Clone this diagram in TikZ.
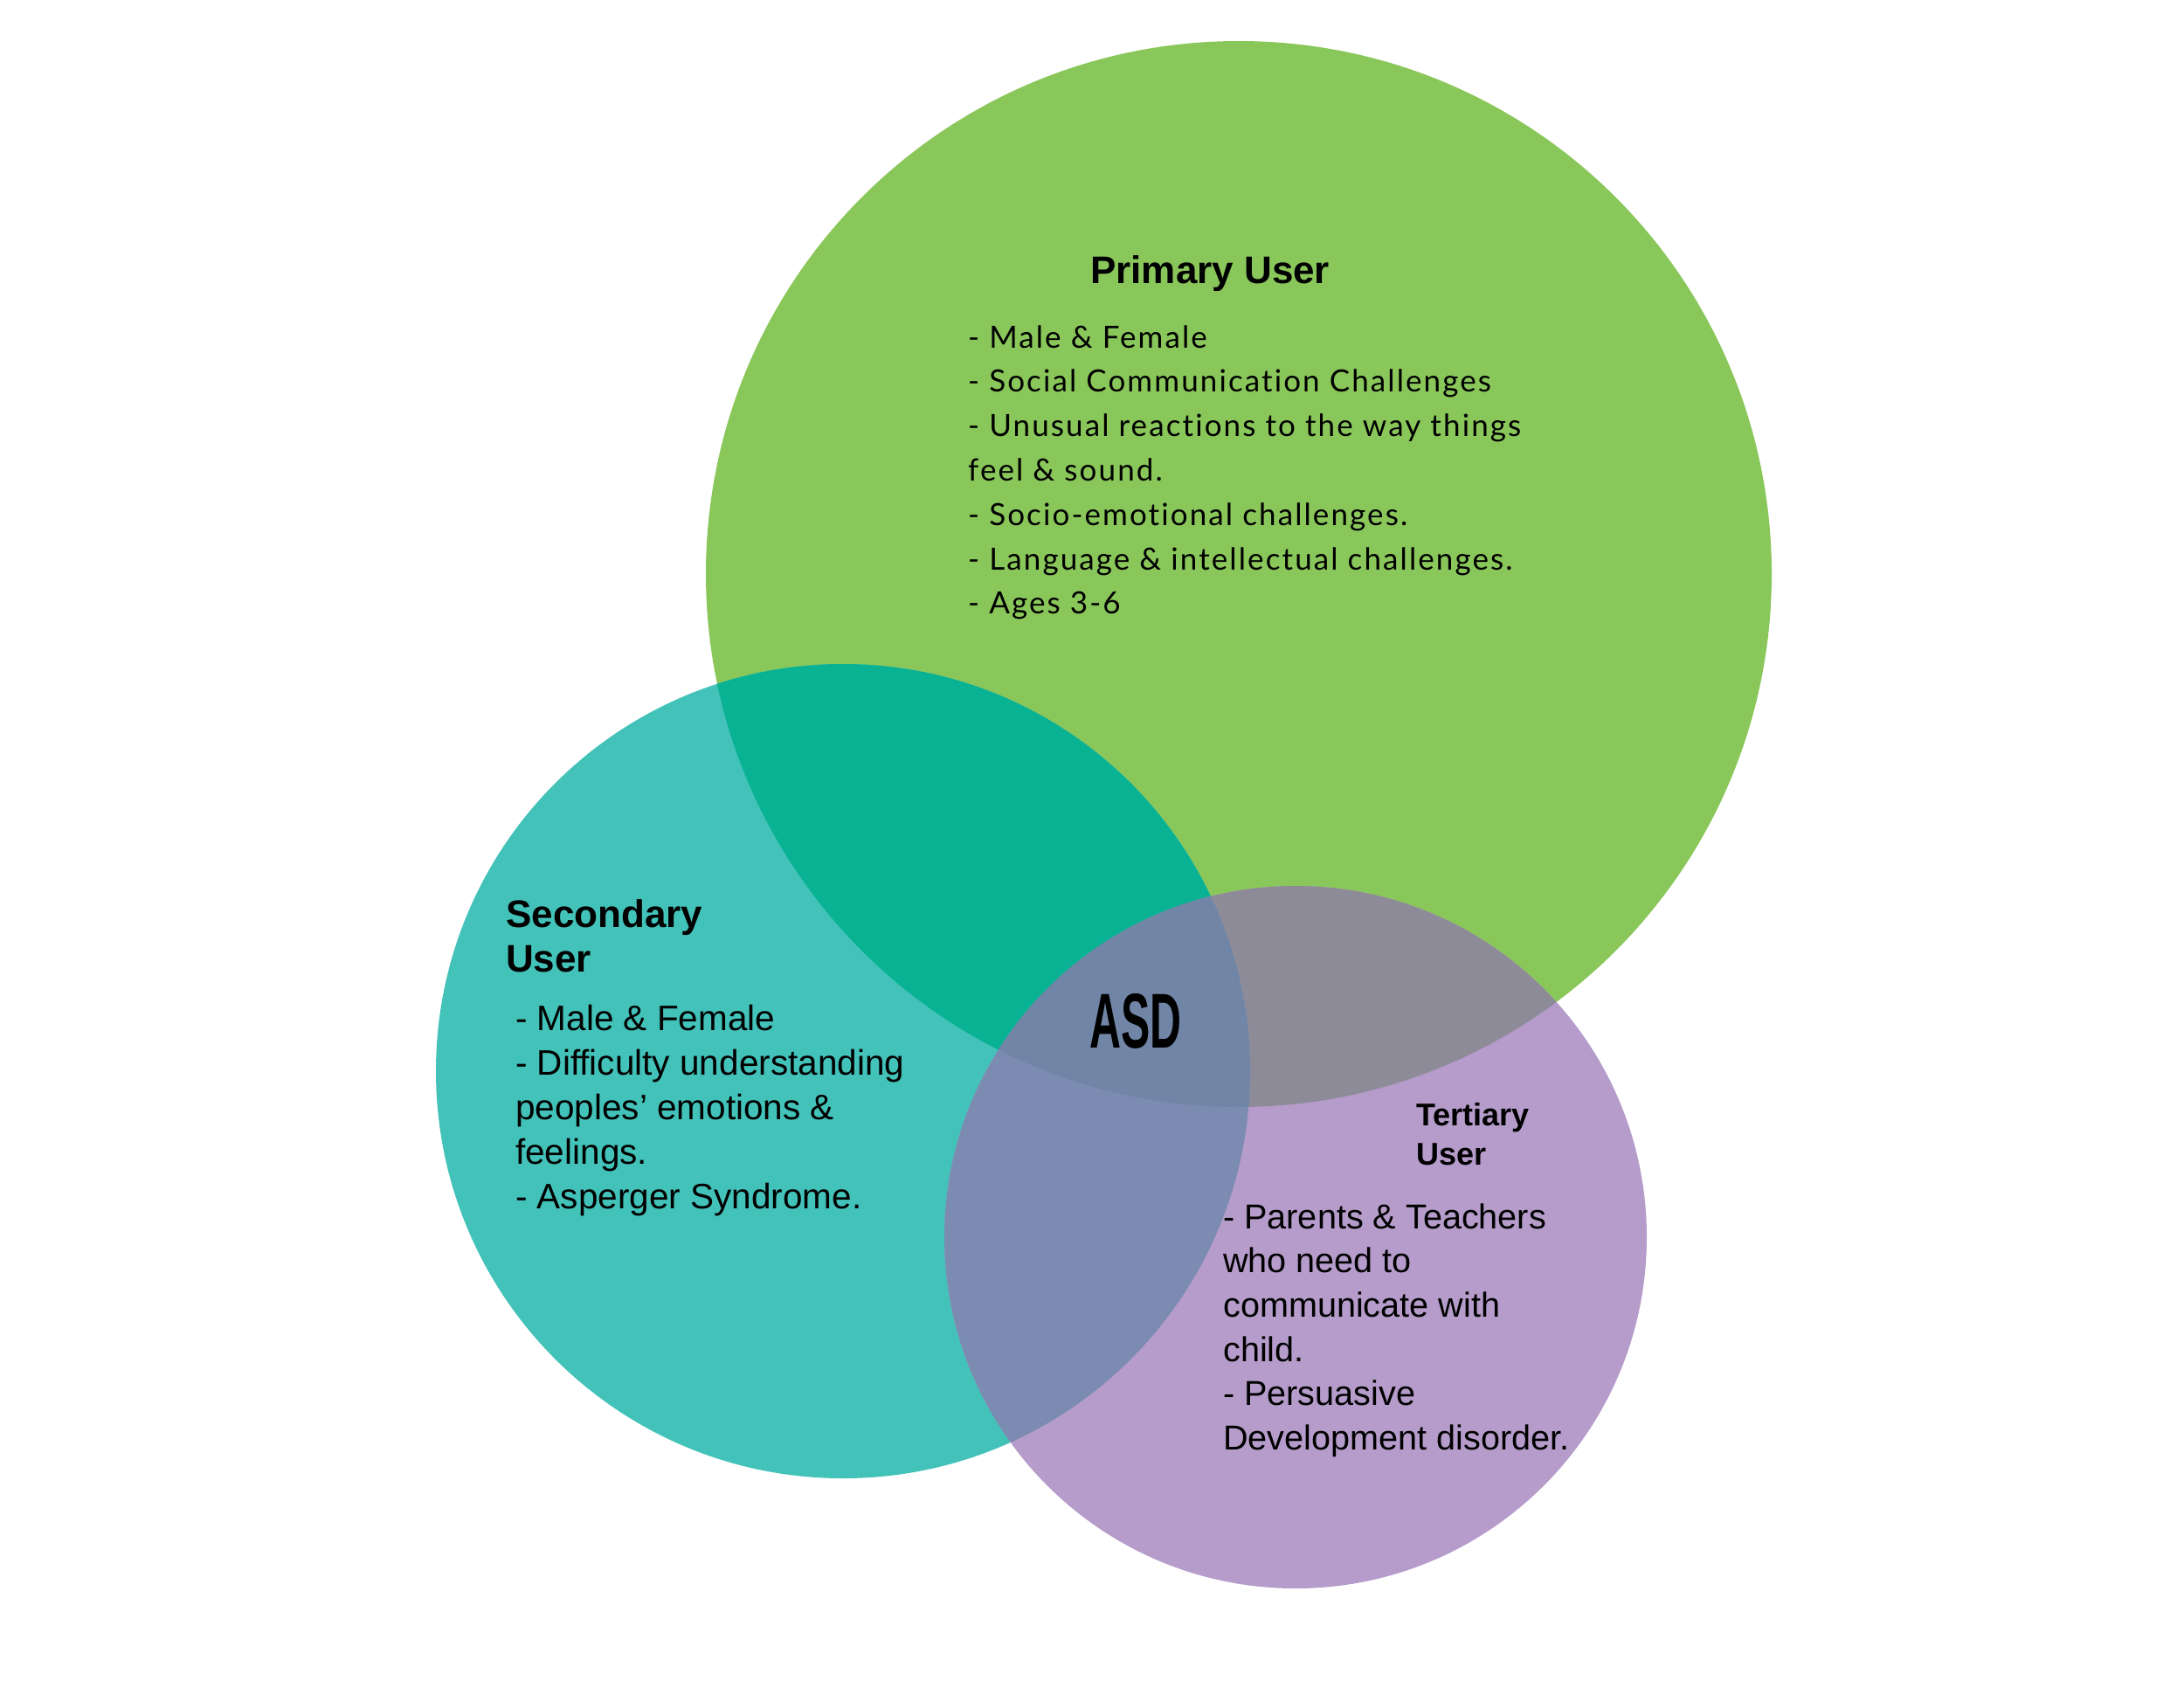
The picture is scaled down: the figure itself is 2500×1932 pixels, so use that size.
\documentclass[tikz,border=0pt]{standalone}
\usepackage{fontspec}
\usepackage{graphicx}
\setmainfont{Liberation Sans}
\newfontfamily\bodyfont[LetterSpace=6,Ligatures=NoCommon]{Lato}
\definecolor{cgreen}{HTML}{8AC75A}
\definecolor{cteal}{HTML}{42C2B9}
\definecolor{cpurple}{HTML}{B59CCA}
\definecolor{cgt}{HTML}{0AB294}
\definecolor{cgp}{HTML}{8E8B99}
\definecolor{ctp}{HTML}{7B8BB1}
\definecolor{call}{HTML}{7186A7}
\tikzset{
  titletext/.style={anchor=base west, inner sep=0pt, font=\bfseries\fontsize{44}{51}\selectfont},
  bodytext/.style={anchor=base west, inner sep=0pt},
}
\begin{document}
\begin{tikzpicture}[x=1pt,y=-1pt]
\useasboundingbox (0,0) rectangle (2500,1932);
\fill[white] (0,0) rectangle (2500,1932);
% circles
\fill[cgreen] (1418,657) circle[radius=610pt];
\fill[cteal] (965,1226) circle[radius=466pt];
\fill[cpurple] (1483,1416) circle[radius=402pt];
\begin{scope}
  \clip (1418,657) circle[radius=610pt];
  \fill[cgt] (965,1226) circle[radius=466pt];
\end{scope}
\begin{scope}
  \clip (1418,657) circle[radius=610pt];
  \fill[cgp] (1483,1416) circle[radius=402pt];
\end{scope}
\begin{scope}
  \clip (965,1226) circle[radius=466pt];
  \fill[ctp] (1483,1416) circle[radius=402pt];
\end{scope}
\begin{scope}
  \clip (1418,657) circle[radius=610pt];
  \clip (965,1226) circle[radius=466pt];
  \fill[call] (1483,1416) circle[radius=402pt];
\end{scope}
% texts
\node[titletext] (ptitle) at (1248,324) {Primary User};
\node[bodytext] (pbody) at (1108,398) {\bodyfont\fontsize{35}{50.8}\selectfont\begin{tabular}[t]{@{}l@{}}
- Male \& Female\\
- Social Communication Challenges\\
- Unusual reactions to the way things\\
feel \& sound.\\
- Socio-emotional challenges.\\
- Language \& intellectual challenges.\\
- Ages 3-6
\end{tabular}};
\node[titletext] (stitle) at (579,1061) {\begin{tabular}[t]{@{}l@{}}Secondary\\User\end{tabular}};
\node[bodytext] (sbody) at (590,1179) {\fontsize{40.5}{51}\selectfont\begin{tabular}[t]{@{}l@{}}
- Male \& Female\\
- Difficulty understanding\\
peoples’ emotions \&\\
feelings.\\
- Asperger Syndrome.
\end{tabular}};
\node[anchor=base west, inner sep=0pt, font=\bfseries\fontsize{36}{45}\selectfont] (ttitle) at (1621,1288) {\begin{tabular}[t]{@{}l@{}}Tertiary\\User\end{tabular}};
\node[bodytext] (tbody) at (1400,1406) {\fontsize{39.6}{50.7}\selectfont\begin{tabular}[t]{@{}l@{}}
- Parents \& Teachers\\
who need to\\
communicate with\\
child.\\
- Persuasive\\
Development disorder.
\end{tabular}};
\node[anchor=base west, inner sep=0pt] (asd) at (1247,1199) {\scalebox{0.56}[1]{\bfseries\fontsize{89}{89}\selectfont ASD}};
\end{tikzpicture}
\end{document}
